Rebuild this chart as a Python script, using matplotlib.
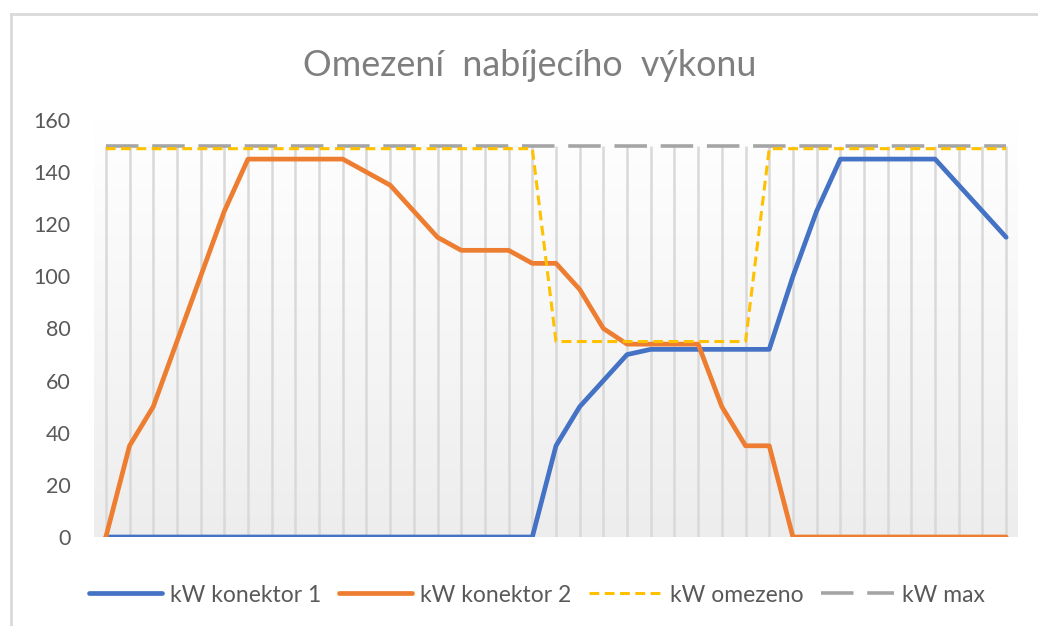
import numpy as np
import matplotlib
matplotlib.use("Agg")
import matplotlib.pyplot as plt
from matplotlib.lines import Line2D

plt.rcParams['font.family'] = ['Lato', 'DejaVu Sans']

title = "Omezení  nabíjecího  výkonu"
steps = list(range(39))
kw_konektor_1 = [0, 0, 0, 0, 0, 0, 0, 0, 0, 0, 0, 0, 0, 0, 0, 0, 0, 0, 0,
                 35, 50, 60, 70, 72, 72, 72, 72, 72, 72, 100, 125, 145, 145, 145, 145, 145, 135, 125, 115]
kw_konektor_2 = [0, 35, 50, 75, 100, 125, 145, 145, 145, 145, 145, 140, 135, 125, 115, 110, 110, 110, 105, 105,
                 95, 80, 74, 74, 74, 74, 50, 35, 35, 0, 0, 0, 0, 0, 0, 0, 0, 0, 0]
kw_omezeno = [149, 149, 149, 149, 149, 149, 149, 149, 149, 149, 149, 149, 149, 149, 149, 149, 149, 149, 149,
              75, 75, 75, 75, 75, 75, 75, 75, 75,
              149, 149, 149, 149, 149, 149, 149, 149, 149, 149, 149]
kw_max = [150] * 39
series_names = ["kW konektor 1", "kW konektor 2", "kW omezeno", "kW max"]
y_ticks = [0, 20, 40, 60, 80, 100, 120, 140, 160]

W, H = 1038, 626
fig = plt.figure(figsize=(W / 100, H / 100), dpi=100)
fig.patch.set_facecolor('white')

ax = fig.add_axes([94 / W, 1 - 537 / H, (1018 - 94) / W, (537 - 120) / H])
ax.set_xlim(-0.5, 38.5)
ax.set_ylim(0, 160)

# background gradient (white top -> light gray bottom)
grad = np.linspace(0, 1, 256).reshape(-1, 1)
top = np.array([1.0, 1.0, 1.0])
bot = np.array([0.93, 0.93, 0.93])
img = top[None, None, :] * (1 - grad[:, :, None]) + bot[None, None, :] * grad[:, :, None]
ax.imshow(img, extent=[0, 1, 0, 1], transform=ax.transAxes, aspect='auto', zorder=0)

x = np.array(steps)
tops = np.maximum.reduce([np.array(kw_konektor_1), np.array(kw_konektor_2),
                          np.array(kw_omezeno), np.array(kw_max)])
ax.vlines(x, 0, tops, colors='#d9d9d9', linewidth=1.8, zorder=1)

ax.plot(x, kw_konektor_1, color='#4472C4', linewidth=3.4, label=series_names[0], zorder=3,
        solid_joinstyle='round', solid_capstyle='round')
ax.plot(x, kw_konektor_2, color='#ED7D31', linewidth=3.4, label=series_names[1], zorder=4,
        solid_joinstyle='round', solid_capstyle='round')
ax.plot(x, kw_omezeno, color='#FFC000', linewidth=2.2, label=series_names[2], zorder=5,
        dashes=(3.2, 1.8))
ax.plot(x, kw_max, color='#A5A5A5', linewidth=2.6, label=series_names[3], zorder=2,
        dashes=(9, 3.8))

ax.set_yticks(y_ticks)
ax.set_xticks([])
for s in ax.spines.values():
    s.set_visible(False)
ax.tick_params(axis='y', length=0, pad=17, labelsize=15.5, labelcolor='#595959')

fig.text(530 / W, 1 - 66 / H, title, ha='center', va='center', fontsize=25.8, color='#7f7f7f')

leg = fig.legend(loc='center', bbox_to_anchor=(537 / W, 1 - 595 / H), ncol=4, frameon=False,
                 fontsize=16.5, handlelength=3.2, handletextpad=0.35, columnspacing=0.75,
                 labelcolor='#595959')

# chart border (left + top)
fig.add_artist(Line2D([11 / W, 11 / W], [0, 1 - 14 / H], transform=fig.transFigure,
                      color='#d9d9d9', linewidth=2))
fig.add_artist(Line2D([11 / W, 1], [1 - 14 / H, 1 - 14 / H], transform=fig.transFigure,
                      color='#d9d9d9', linewidth=2))

fig.savefig('out.png', dpi=100)
